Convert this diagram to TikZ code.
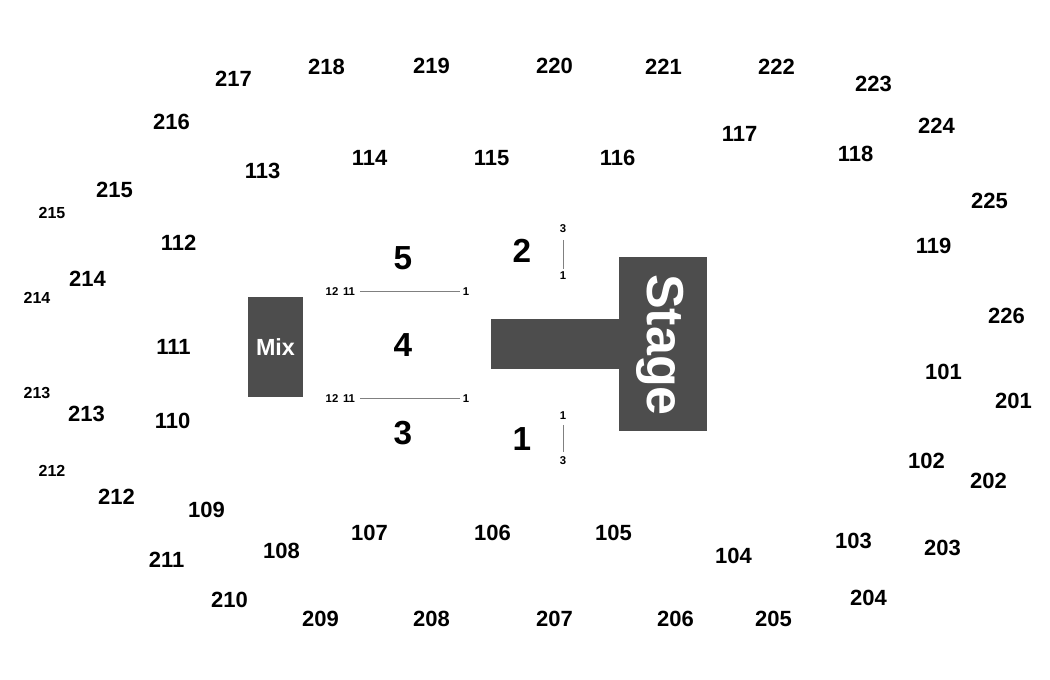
\documentclass[tikz,border=0pt]{standalone}
\usepackage{fontspec}
\setmainfont{Liberation Sans}
\usepackage{xcolor}
\usepackage{tikz}
\definecolor{stagegray}{HTML}{4D4D4D}
\tikzstyle{sect} = [font=\fontsize{16.5}{18}\selectfont\bfseries, inner sep=1pt, xshift=0.4pt]
\tikzstyle{upper} = [font=\fontsize{12}{14}\selectfont\bfseries, inner sep=1pt]
\tikzstyle{floor} = [font=\fontsize{25}{28}\selectfont\bfseries, inner sep=1pt]
\tikzstyle{seat} = [font=\fontsize{8.5}{10}\selectfont\bfseries, inner sep=2pt]
\tikzstyle{block} = [rectangle, fill=stagegray, text=white, font=\bfseries, inner sep=0pt]
\tikzstyle{line} = [draw, color=gray, line width=0.75pt]

\begin{document}
\begin{tikzpicture}[x=0.75pt, y=-0.75pt]
    \path [use as bounding box] (0,0) rectangle (1050,680);

    % Place blocks
    \node [block, minimum width=41.25pt, minimum height=75pt, font=\fontsize{17.5}{20}\selectfont\bfseries] (mix) at (275.5,347) {Mix};
    \node [block, minimum width=96pt, minimum height=37.5pt] (runway) at (555,344) {};
    \node [block, minimum width=66pt, minimum height=130.5pt] (stage) at (663,344) {};
    \node [text=white, rotate=-90, inner sep=0pt, font=\fontsize{39}{41}\selectfont\bfseries] (stagetext) at (660,345) {Stage};

    % Floor sections
    \node [floor] (f5) at (403,258) {5};
    \node [floor] (f4) at (403,345) {4};
    \node [floor] (f3) at (403,433) {3};
    \node [floor] (f2) at (522,251) {2};
    \node [floor] (f1) at (522,439) {1};

    % Seat numbers
    \node [seat] (a12) at (332,292) {12};
    \node [seat] (a11) at (349,292) {11};
    \node [seat] (a1) at (466,292) {1};
    \node [seat] (b12) at (332,399) {12};
    \node [seat] (b11) at (349,399) {11};
    \node [seat] (b1) at (466,399) {1};
    \node [seat] (c3) at (563,229) {3};
    \node [seat] (c1) at (563,276) {1};
    \node [seat] (d1) at (563,416) {1};
    \node [seat] (d3) at (563,461) {3};

    % Lower bowl
    \node [sect] (s101) at (943,372) {101};
    \node [sect] (s102) at (926,461) {102};
    \node [sect] (s103) at (853,541) {103};
    \node [sect] (s104) at (733,556) {104};
    \node [sect] (s105) at (613,533) {105};
    \node [sect] (s106) at (492,533) {106};
    \node [sect] (s107) at (369,533) {107};
    \node [sect] (s108) at (281,551) {108};
    \node [sect] (s109) at (206,510) {109};
    \node [sect] (s110) at (172,421) {110};
    \node [sect] (s111) at (173,347) {111};
    \node [sect] (s112) at (178,243) {112};
    \node [sect] (s113) at (262,171) {113};
    \node [sect] (s114) at (369,158) {114};
    \node [sect] (s115) at (491,158) {115};
    \node [sect] (s116) at (617,158) {116};
    \node [sect] (s117) at (739,134) {117};
    \node [sect] (s118) at (855,154) {118};
    \node [sect] (s119) at (933,246) {119};

    % Upper bowl
    \node [sect] (s201) at (1013,401) {201};
    \node [sect] (s202) at (988,481) {202};
    \node [sect] (s203) at (942,548) {203};
    \node [sect] (s204) at (868,598) {204};
    \node [sect] (s205) at (773,619) {205};
    \node [sect] (s206) at (675,619) {206};
    \node [sect] (s207) at (554,619) {207};
    \node [sect] (s208) at (431,619) {208};
    \node [sect] (s209) at (320,619) {209};
    \node [sect] (s210) at (229,600) {210};
    \node [sect] (s211) at (166,560) {211};
    \node [sect] (s212) at (116,497) {212};
    \node [sect] (s213) at (86,414) {213};
    \node [sect] (s214) at (87,279) {214};
    \node [sect] (s215) at (114,190) {215};
    \node [sect] (s216) at (171,122) {216};
    \node [sect] (s217) at (233,79) {217};
    \node [sect] (s218) at (326,67) {218};
    \node [sect] (s219) at (431,66) {219};
    \node [sect] (s220) at (554,66) {220};
    \node [sect] (s221) at (663,67) {221};
    \node [sect] (s222) at (776,67) {222};
    \node [sect] (s223) at (873,84) {223};
    \node [sect] (s224) at (936,126) {224};
    \node [sect] (s225) at (989,201) {225};
    \node [sect] (s226) at (1006,316) {226};

    % Outer small labels
    \node [upper] (u215) at (52,213) {215};
    \node [upper] (u214) at (37,298) {214};
    \node [upper] (u213) at (37,393) {213};
    \node [upper] (u212) at (52,471) {212};

    % edges
    \path [line, shorten <=1.5pt] (a11) -- (a1);
    \path [line, shorten <=1.5pt] (b11) -- (b1);
    \path [line, shorten <=3pt] (c3) -- (c1);
    \path [line, shorten <=1.5pt, shorten >=1.5pt] (d1) -- (d3);
\end{tikzpicture}
\end{document}
